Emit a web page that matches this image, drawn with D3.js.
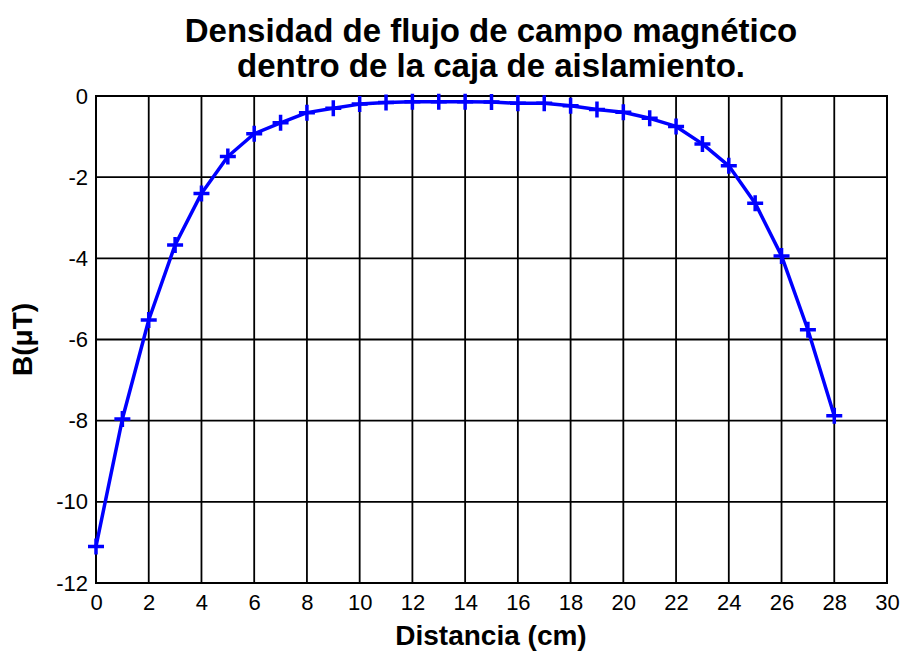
<!DOCTYPE html>
<html>
<head>
<meta charset="utf-8">
<script src="https://cdn.jsdelivr.net/npm/d3@7"></script>
<style>
    body { margin: 0; background: #fff; }
    svg { display: block; font-family: "Liberation Sans", Arial, sans-serif; }
</style>
</head>
<body>
<svg id="chart" width="903" height="653"></svg>
<script>
// measured field along the box (cm, microtesla)
const distances = [0, 1, 2, 3, 4, 5, 6, 7, 8, 9, 10, 11, 12, 13, 14,
    15, 16, 17, 18, 19, 20, 21, 22, 23, 24, 25, 26, 27, 28];
const fieldValues = [-11.1, -7.96, -5.52, -3.67, -2.4, -1.49, -0.93, -0.66,
    -0.41, -0.3, -0.2, -0.16, -0.14, -0.14, -0.14, -0.15, -0.18, -0.18,
    -0.24, -0.33, -0.4, -0.55, -0.75, -1.18, -1.72, -2.64, -3.94, -5.76, -7.88];
const xTicks = d3.range(0, 31, 2);
const yTicks = [0, -2, -4, -6, -8, -10, -12];
const titleLines = ["Densidad de flujo de campo magnético", "dentro de la caja de aislamiento."];

const svg = d3.select("#chart");
const plot = { left: 96, top: 96, right: 887, bottom: 583 };

const x = d3.scaleLinear().domain([0, 30]).range([plot.left, plot.right]);
const y = d3.scaleLinear().domain([-12, 0]).range([plot.bottom, plot.top]);

// grid
const grid = svg.append("g").attr("id", "grid");
grid.selectAll("line.vgrid")
    .data(xTicks)
    .enter()
    .append("line")
    .attr("x1", (d) => x(d))
    .attr("x2", (d) => x(d))
    .attr("y1", plot.top)
    .attr("y2", plot.bottom)
    .attr("stroke", "#000")
    .attr("stroke-width", 1.8);
grid.selectAll("line.hgrid")
    .data(yTicks)
    .enter()
    .append("line")
    .attr("x1", plot.left)
    .attr("x2", plot.right)
    .attr("y1", (d) => y(d))
    .attr("y2", (d) => y(d))
    .attr("stroke", "#000")
    .attr("stroke-width", 1.8);

svg.append("rect")
    .attr("x", plot.left)
    .attr("y", plot.top)
    .attr("width", plot.right - plot.left)
    .attr("height", plot.bottom - plot.top)
    .attr("fill", "none")
    .attr("stroke", "#000")
    .attr("stroke-width", 2);

// axes (labels only, the grid does the lines)
const xAxis = svg.append("g")
    .attr("transform", `translate(0,${plot.bottom})`)
    .call(d3.axisBottom(x).tickValues(xTicks).tickSize(0).tickPadding(11).tickFormat(d3.format("d")));
const yAxis = svg.append("g")
    .attr("transform", `translate(${plot.left},0)`)
    .call(d3.axisLeft(y).tickValues(yTicks).tickSize(0).tickPadding(8).tickFormat((d) => d === 0 ? "0" : `-${-d}`));
[xAxis, yAxis].forEach((a) => {
    a.select(".domain").remove();
    a.selectAll("text")
        .attr("font-family", "'Liberation Sans', Arial, sans-serif")
        .attr("font-size", 22)
        .attr("fill", "#000");
});

// curve
const line = d3.line()
    .x((d, i) => x(distances[i]))
    .y((d) => y(d));
svg.append("path")
    .datum(fieldValues)
    .attr("d", line)
    .attr("fill", "none")
    .attr("stroke", "#0000ff")
    .attr("stroke-width", 3.5)
    .attr("stroke-linejoin", "round");

const m = 8;
svg.append("g")
    .selectAll("path.marker")
    .data(fieldValues)
    .enter()
    .append("path")
    .attr("d", (d, i) => {
        const cx = x(distances[i]), cy = y(d);
        return `M${cx - m},${cy}H${cx + m}M${cx},${cy - m}V${cy + m}`;
    })
    .attr("stroke", "#0000ff")
    .attr("stroke-width", 3.5);

// titles
svg.append("g")
    .selectAll("text")
    .data(titleLines)
    .enter()
    .append("text")
    .attr("x", 491)
    .attr("y", (d, i) => 42 + i * 35)
    .attr("text-anchor", "middle")
    .attr("font-size", 33)
    .attr("font-weight", "bold")
    .text((d) => d);

svg.append("text")
    .attr("x", 491)
    .attr("y", 645)
    .attr("text-anchor", "middle")
    .attr("font-size", 28)
    .attr("font-weight", "bold")
    .text("Distancia (cm)");

svg.append("text")
    .attr("transform", `translate(32,${(plot.top + plot.bottom) / 2}) rotate(-90)`)
    .attr("text-anchor", "middle")
    .attr("font-size", 28)
    .attr("font-weight", "bold")
    .text("B(μT)");
</script>
</body>
</html>
